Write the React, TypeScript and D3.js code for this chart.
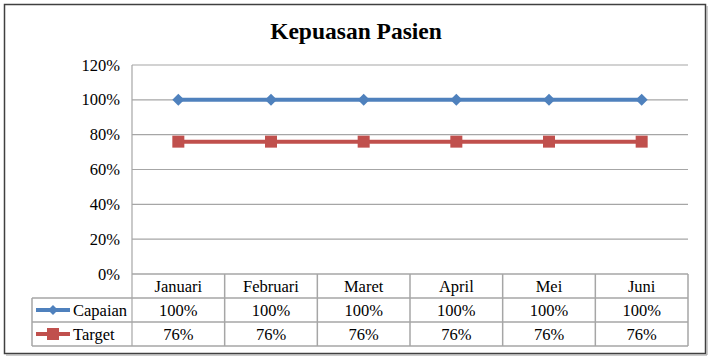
import React from "react";
import * as d3 from "d3";

const categories = ["Januari", "Februari", "Maret", "April", "Mei", "Juni"];
const capaian = [1.0, 1.0, 1.0, 1.0, 1.0, 1.0];
const target = [0.76, 0.76, 0.76, 0.76, 0.76, 0.76];
const yTicks = [0, 0.2, 0.4, 0.6, 0.8, 1.0, 1.2];
const seriesNames = ["Capaian", "Target"];

const W = 713, H = 359;
const plotL = 132, plotR = 688, plotT = 65, plotB = 274;
const rowH = 24;
const tableL = 32;
const blue = "#4f81bd", red = "#c0504d";
const gridC = "#a6a6a6";
const font = "Liberation Serif";

export default function App() {
  const x = d3.scaleBand<string>().domain(categories).range([plotL, plotR]);
  const y = d3.scaleLinear().domain([0, 1.2]).range([plotB, plotT]);
  const fmt = d3.format(".0%");
  const line = d3.line<number>()
    .x((_, i) => (x(categories[i]) as number) + x.bandwidth() / 2)
    .y(d => y(d));
  const series = [
    { name: seriesNames[0], values: capaian, color: blue, marker: "diamond" },
    { name: seriesNames[1], values: target, color: red, marker: "square" },
  ];
  const tableB = plotB + rowH * 3;
  const ts = { fontFamily: font };
  return (
    <svg width={W} height={H} style={{ position: "absolute", left: 0, top: 0, background: "#fff" }}>
      <rect x={4.5} y={4.5} width={701} height={349} fill="#fff" stroke="#404040" strokeWidth={1.5} />
      <line x1={6} y1={355} x2={707} y2={355} stroke="#9a9a9a" strokeWidth={1} />
      <line x1={707} y1={6} x2={707} y2={355} stroke="#9a9a9a" strokeWidth={1} />
      <text x={356} y={39} textAnchor="middle" fontSize={23.5} fontWeight="bold" style={ts}>Kepuasan Pasien</text>
      {yTicks.map(t => (
        <g key={t}>
          {t > 0 && <line x1={plotL} x2={plotR} y1={y(t)} y2={y(t)} stroke={gridC} strokeWidth={1.2} />}
          <text x={120} y={y(t) + 5.5} textAnchor="end" fontSize={16.5} style={ts}>{fmt(t)}</text>
        </g>
      ))}
      <line x1={plotL} x2={plotL} y1={plotT} y2={tableB} stroke={gridC} strokeWidth={1.2} />
      <line x1={plotL} x2={plotR} y1={plotB} y2={plotB} stroke={gridC} strokeWidth={1.5} />
      {[1, 2, 3].map(r => (
        <line key={r} x1={tableL} x2={plotR} y1={plotB + r * rowH} y2={plotB + r * rowH} stroke={gridC} strokeWidth={1.5} />
      ))}
      <line x1={tableL} x2={tableL} y1={plotB + rowH} y2={tableB} stroke={gridC} strokeWidth={1.5} />
      {categories.map(c => (
        <line key={c} x1={(x(c) as number) + x.bandwidth()} x2={(x(c) as number) + x.bandwidth()} y1={plotB} y2={tableB} stroke={gridC} strokeWidth={1.5} />
      ))}
      {categories.map(c => (
        <text key={c} x={(x(c) as number) + x.bandwidth() / 2} y={plotB + 18} textAnchor="middle" fontSize={16.5} style={ts}>{c}</text>
      ))}
      {series.map((s, si) => {
        const ry = plotB + rowH * (si + 1);
        const cy = ry + rowH / 2;
        return (
          <g key={s.name}>
            <line x1={36} x2={70} y1={cy} y2={cy} stroke={s.color} strokeWidth={4} />
            {s.marker === "diamond"
              ? <path d={`M53,${cy - 5}L58,${cy}L53,${cy + 5}L48,${cy}Z`} fill={s.color} />
              : <rect x={47} y={cy - 6} width={12} height={12} fill={s.color} />}
            <text x={73} y={cy + 6} fontSize={16.5} style={ts}>{s.name}</text>
            {s.values.map((v, i) => (
              <text key={i} x={(x(categories[i]) as number) + x.bandwidth() / 2} y={cy + 6} textAnchor="middle" fontSize={16.5} style={ts}>{fmt(v)}</text>
            ))}
          </g>
        );
      })}
      {series.map(s => (
        <g key={s.name}>
          <path d={line(s.values) || ""} fill="none" stroke={s.color} strokeWidth={4} />
          {s.values.map((v, i) => {
            const cx = (x(categories[i]) as number) + x.bandwidth() / 2;
            const cy = y(v);
            return s.marker === "diamond"
              ? <path key={i} d={`M${cx},${cy - 6}L${cx + 6},${cy}L${cx},${cy + 6}L${cx - 6},${cy}Z`} fill={s.color} />
              : <rect key={i} x={cx - 6} y={cy - 6} width={12} height={12} fill={s.color} />;
          })}
        </g>
      ))}
    </svg>
  );
}
